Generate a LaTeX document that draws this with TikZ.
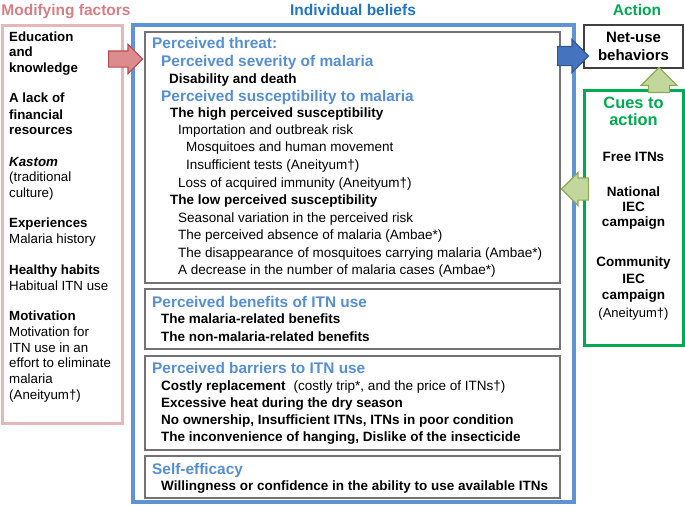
\documentclass[tikz,border=0pt]{standalone}
\usepackage{fontspec}
\setmainfont{Liberation Sans}
\usetikzlibrary{shapes.arrows}
\definecolor{modtext}{RGB}{215,125,132}
\definecolor{modline}{RGB}{230,183,185}
\definecolor{modfill}{RGB}{220,140,140}
\definecolor{moddraw}{RGB}{185,75,78}
\definecolor{beltext}{RGB}{30,117,195}
\definecolor{belline}{RGB}{95,147,214}
\definecolor{headblue}{RGB}{85,142,213}
\definecolor{belfill}{RGB}{70,115,190}
\definecolor{beldraw}{RGB}{45,85,150}
\definecolor{cuegreen}{RGB}{0,170,80}
\definecolor{cuefill}{RGB}{195,214,155}
\definecolor{cuedraw}{RGB}{140,170,85}

\begin{document}
\begin{tikzpicture}[x=1pt,y=-1pt]
	\tikzstyle{title}=[anchor=base,inner sep=0pt,font=\fontsize{15.5}{18}\selectfont\bfseries]
	\tikzstyle{txt}=[anchor=west,inner sep=0pt,text depth=0pt]
	\tikzstyle{heading}=[txt,text=headblue,text height=10.8pt,font=\fontsize{15.4}{18}\selectfont\bfseries]
	\tikzstyle{entry}=[txt,text height=9.5pt,font=\fontsize{13.5}{16}\selectfont\bfseries]
	\tikzstyle{detail}=[txt,text height=9.5pt,font=\fontsize{13.5}{16}\selectfont]
	\tikzstyle{factor}=[txt,text height=9.3pt,font=\fontsize{13.3}{16}\selectfont\bfseries]
	\tikzstyle{factor text}=[txt,text height=9.3pt,font=\fontsize{13.3}{16}\selectfont]
	\tikzstyle{cue}=[entry,anchor=center]
	\tikzstyle{box}=[draw=black!55,line width=1.2pt,inner sep=0pt,minimum width=415pt]
	\tikzstyle{block}=[single arrow,draw,line width=1.2pt,inner xsep=0pt,anchor=tail]
	
	\useasboundingbox (0,0) rectangle (685,506);
	
	% Draw the three column titles
	\node[title,text=modtext] (t-mod) at (66,15.5) {Modifying factors};
	\node[title,text=beltext] (t-bel) at (353,15.5) {Individual beliefs};
	\node[title,text=cuegreen] (t-act) at (637,15.5) {Action};
	
	% Draw the frames
	\node[draw=modline,line width=3pt,inner sep=0pt,minimum width=120pt,minimum height=398pt] (mod) at (62,224) {};
	\node[draw=belline,line width=4pt,inner sep=0pt,minimum width=441pt,minimum height=477pt] (bel) at (353.5,263.5) {};
	\node[box,minimum height=251pt] (thr) at (352.5,157.5) {};
	\node[box,minimum height=60pt] (ben) at (352.5,319) {};
	\node[box,minimum height=94pt] (bar) at (352.5,403) {};
	\node[box,minimum height=42pt] (eff) at (352.5,477) {};
	\node[draw=black!75,line width=1.2pt,inner sep=0pt,minimum width=99pt,minimum height=43pt] (act) at (633.5,46.5) {};
	\node[draw=cuegreen,line width=3pt,inner sep=0pt,minimum width=99pt,minimum height=255pt] (cue) at (633.5,217.5) {};
	
	% Modifying factors
	\foreach \name / \y / \txt in {1/37/Education,2/52/and,3/68/knowledge,4/98/A lack of,5/115/financial,6/130/resources,9/223/Experiences,11/270/Healthy habits,13/316/Motivation}
	\node[factor] (f-\name) at (9,\y) {\txt};
	\node[factor] (f-7) at (9,162) {\itshape Kastom};
	\foreach \name / \y / \txt in {8/177/{(traditional},10/193/{culture)},12/239/Malaria history,14/286/Habitual ITN use,15/332/Motivation for,16/348/ITN use in an,17/363/effort to eliminate,18/379/malaria,19/395/{(Aneityum\textdagger)}}
	\node[factor text] (f-\name) at (9,\y) {\txt};
	
	% Perceived threat
	\foreach \name / \x / \y / \txt in {1/152/43/Perceived threat:,2/161/61/Perceived severity of malaria,4/161/96/Perceived susceptibility to malaria}
	\node[heading] (thr-\name) at (\x,\y) {\txt};
	\foreach \name / \x / \y / \txt in {3/169/79/Disability and death,5/170/113/The high perceived susceptibility,10/170/200/The low perceived susceptibility}
	\node[entry] (thr-\name) at (\x,\y) {\txt};
	\foreach \name / \x / \y / \txt in {6/178/130/Importation and outbreak risk,7/186/147/Mosquitoes and human movement,8/186/165/{Insufficient tests (Aneityum\textdagger)},9/178/183/{Loss of acquired immunity (Aneityum\textdagger)},11/178/218/Seasonal variation in the perceived risk,12/178/235/{The perceived absence of malaria (Ambae*)},13/178/253/{The disappearance of mosquitoes carrying malaria (Ambae*)},14/178/270/{A decrease in the number of malaria cases (Ambae*)}}
	\node[detail] (thr-\name) at (\x,\y) {\txt};
	
	% Perceived benefits
	\node[heading] (ben-1) at (152,302) {Perceived benefits of ITN use};
	\foreach \name / \y / \txt in {2/319/The malaria-related benefits,3/337/The non-malaria-related benefits}
	\node[entry] (ben-\name) at (161,\y) {\txt};
	
	% Perceived barriers
	\node[heading] (bar-1) at (152,368) {Perceived barriers to ITN use};
	\node[entry] (bar-2) at (161,386) {Costly replacement\hspace{8pt}\mdseries(costly trip*, and the price of ITNs\textdagger)};
	\foreach \name / \y / \txt in {3/403/Excessive heat during the dry season,4/420/{No ownership, Insufficient ITNs, ITNs in poor condition},5/437/{The inconvenience of hanging, Dislike of the insecticide}}
	\node[entry] (bar-\name) at (161,\y) {\txt};
	
	% Self-efficacy
	\node[heading] (eff-1) at (152,469) {Self-efficacy};
	\node[entry] (eff-2) at (161,486) {Willingness or confidence in the ability to use available ITNs};
	
	% Action and cues to action
	\node[cue,text height=10.5pt,font=\fontsize{15}{18}\selectfont\bfseries] (act-1) at (633.5,37.5) {Net-use};
	\node[cue,text height=10.5pt,font=\fontsize{15}{18}\selectfont\bfseries] (act-2) at (633.5,55) {behaviors};
	\node[cue,text=cuegreen,text height=11.5pt,font=\fontsize{16.4}{18}\selectfont\bfseries] (cue-1) at (633.5,103) {Cues to};
	\node[cue,text=cuegreen,text height=11.5pt,font=\fontsize{16.4}{18}\selectfont\bfseries] (cue-2) at (633.5,120) {action};
	\foreach \name / \y / \txt in {3/157/Free ITNs,4/192/National,5/207/IEC/BCC,6/222/campaign,7/262/Community,8/279/IEC/BCC,9/295/campaign}
	\node[cue] (cue-\name) at (633.5,\y) {\txt};
	\node[cue,font=\fontsize{13}{16}\selectfont] (cue-10) at (633.5,313) {(Aneityum\textdagger)};
	
	% Block arrows between the columns
	\node[block,fill=modfill,draw=moddraw,inner ysep=7.5pt,single arrow head extend=6.5pt,minimum height=34pt] (a-mod) at (108,59) {};
	\node[block,fill=belfill,draw=beldraw,inner ysep=9pt,single arrow head extend=7pt,minimum height=31pt] (a-bel) at (557,56) {};
	\node[block,fill=cuefill,draw=cuedraw,inner xsep=10pt,inner ysep=0pt,single arrow head extend=7.5pt,minimum height=25pt,shape border rotate=90] (a-up) at (659,93) {};
	\node[block,fill=cuefill,draw=cuedraw,inner ysep=10.5pt,single arrow head extend=5.5pt,minimum height=27pt,shape border rotate=180] (a-left) at (589,189) {};
	
\end{tikzpicture}
\end{document}
